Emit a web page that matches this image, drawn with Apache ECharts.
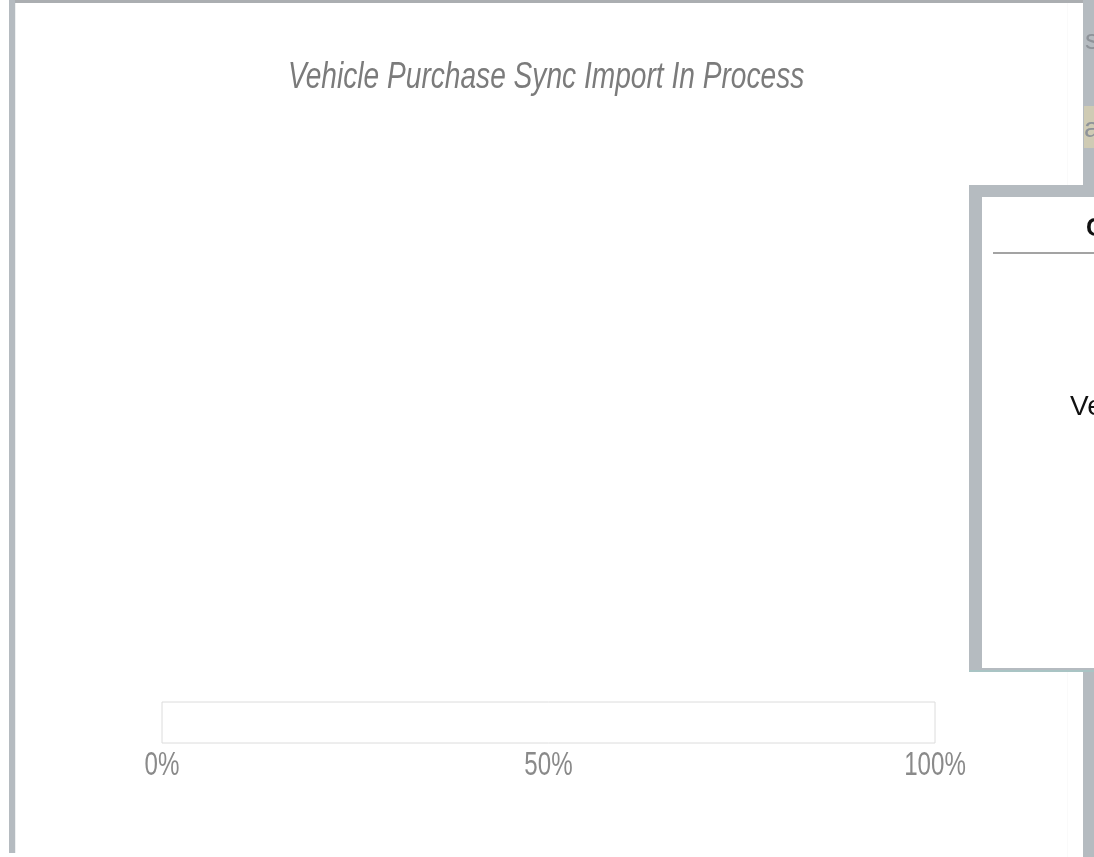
<!DOCTYPE html>
<html>
<head>
<meta charset="utf-8">
<title>Vehicle Purchase Sync Import In Process</title>
<script src="https://cdn.jsdelivr.net/npm/echarts@6/dist/echarts.min.js"></script>
<style>
  html, body {
    margin: 0;
    padding: 0;
    background: #fff;
  }
  .container {
    width: 1094px;
    height: 857px;
  }
</style>
</head>
<body>
<div class="container" id="target"></div>
<script>
// 进度数据
const titleText = 'Vehicle Purchase Sync Import In Process'
const stepNames = ['import']
const progressValues = [0]
const tickValues = [0, 50, 100]
const tickSuffix = '%'

// 被遮挡的对话框里的文字
const dialogHeader = 'C'
const dialogBody = 'Ve'
const sideLetters = ['s', 'a']

// 原图的字体是窄体，这里用 Liberation Sans 横向压缩来模拟
const baseFont = "'Liberation Sans', Arial, sans-serif"
const frameGray = '#b5bbc0'

const mChart = echarts.init(document.getElementById('target'), null, { renderer: 'canvas' })

/**
 * 背景边框与右侧遮挡的对话框
 */
const buildFrame = () => [
  // 顶部细线
  { type: 'rect', shape: { x: 9, y: 0, width: 1074, height: 3 }, style: { fill: '#abaeb1' }, z: 1 },
  // 左侧竖条
  { type: 'rect', shape: { x: 9, y: 0, width: 6, height: 853 }, style: { fill: frameGray }, z: 1 },
  { type: 'rect', shape: { x: 15, y: 3, width: 1, height: 850 }, style: { fill: '#eef0f1' }, z: 1 },
  { type: 'rect', shape: { x: 1067, y: 3, width: 1, height: 854 }, style: { fill: '#fafafa' }, z: 1 },
  // 右侧灰条
  { type: 'rect', shape: { x: 1083, y: 0, width: 11, height: 857 }, style: { fill: frameGray }, z: 1 },
  { type: 'rect', shape: { x: 1084, y: 106, width: 10, height: 42 }, style: { fill: '#cfcbb4' }, z: 2 },
  {
    type: 'text', x: 1085, y: 41, z: 3,
    style: { text: sideLetters[0], fill: '#8e9399', font: '28px ' + baseFont, verticalAlign: 'middle' }
  },
  {
    type: 'text', x: 1084, y: 129, z: 3,
    style: { text: sideLetters[1], fill: '#8e9399', font: '28px ' + baseFont, verticalAlign: 'middle' }
  },
  // 遮挡的对话框
  { type: 'rect', shape: { x: 969, y: 185, width: 125, height: 487 }, style: { fill: frameGray }, z: 50 },
  { type: 'rect', shape: { x: 982, y: 197, width: 112, height: 471 }, style: { fill: '#ffffff' }, z: 51 },
  { type: 'rect', shape: { x: 969, y: 670, width: 125, height: 2 }, style: { fill: '#a9c4c4' }, z: 51 },
  {
    type: 'text', x: 1086, y: 229, z: 52,
    style: { text: dialogHeader, fill: '#111', font: 'bold 25px ' + baseFont, verticalAlign: 'middle' }
  },
  { type: 'rect', shape: { x: 993, y: 252, width: 101, height: 2 }, style: { fill: '#a3a3a3' }, z: 52 },
  {
    type: 'text', x: 1070, y: 407, z: 52,
    style: { text: dialogBody, fill: '#111', font: '28px ' + baseFont, verticalAlign: 'middle' }
  }
]

/**
 * 标题和刻度文字（横向压缩）
 */
const buildTexts = () => {
  const items = [
    {
      type: 'text', x: 288, y: 59, scaleX: 0.76, z: 10,
      style: {
        text: titleText,
        fill: '#7b7b7b',
        font: 'italic 37px ' + baseFont,
        align: 'left',
        verticalAlign: 'top'
      }
    }
  ]
  // 刻度文字位置由坐标轴换算
  tickValues.forEach((v) => {
    const x = mChart.convertToPixel({ xAxisIndex: 0 }, v)
    items.push({
      type: 'text', x: x, y: 749, scaleX: 0.71, z: 10,
      style: {
        text: v + tickSuffix,
        fill: '#8a8a8a',
        font: '34px ' + baseFont,
        align: 'center',
        verticalAlign: 'top'
      }
    })
  })
  return items
}

/**
 * 构建图表
 */
const renderChart = () => {
  const options = {
    animation: false,
    backgroundColor: '#ffffff',
    grid: {
      left: 162,
      right: 159,
      top: 702,
      height: 41,
      show: true,
      borderColor: '#dcdcdc',
      borderWidth: 1,
      backgroundColor: '#ffffff'
    },
    xAxis: {
      type: 'value',
      min: tickValues[0],
      max: tickValues[tickValues.length - 1],
      interval: tickValues[1] - tickValues[0],
      axisLine: { show: false },
      axisTick: { show: false },
      splitLine: { show: false },
      axisLabel: { show: false }
    },
    yAxis: {
      type: 'category',
      data: stepNames,
      show: false
    },
    series: [
      {
        type: 'bar',
        data: progressValues,
        barWidth: 39,
        color: '#5cb85c'
      }
    ]
  }
  mChart.setOption(options)
  mChart.setOption({ graphic: buildFrame().concat(buildTexts()) })
}
renderChart()
</script>
</body>
</html>
